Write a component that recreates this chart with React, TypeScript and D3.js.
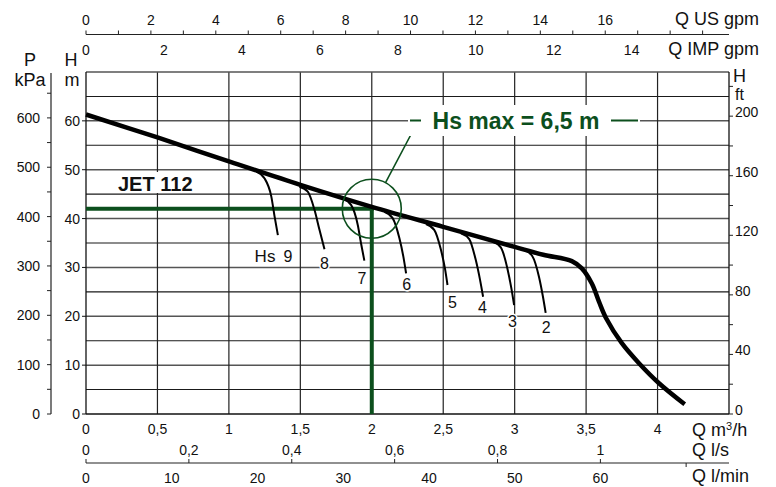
import React from 'react';
import * as d3 from 'd3';

const W = 776;
const H = 487;

// axis ticks
const qLabels = [0, 0.5, 1, 1.5, 2, 2.5, 3, 3.5, 4];
const qGrid = d3.range(0.5, 4.5, 0.5);
const headLabels = [0, 10, 20, 30, 40, 50, 60];
const headGrid = d3.range(5, 70, 5);
const kpaTicks = d3.range(0, 651, 50);
const kpaLabels = [0, 100, 200, 300, 400, 500, 600];
const ftTicks = d3.range(0, 221, 20);
const ftLabels = [0, 40, 80, 120, 160, 200];
const usGpmTicks = d3.range(0, 20);
const usGpmLabels = [0, 2, 4, 6, 8, 10, 12, 14, 16];
const impGpmLabels = [0, 2, 4, 6, 8, 10, 12, 14];
const lsLabels = [0, 0.2, 0.4, 0.6, 0.8, 1];
const lminLabels = [0, 10, 20, 30, 40, 50, 60];
const lminExtraTicks = [70];

// pump curve JET 112 (Q m3/h, H m)
const mainQ = [0, 0.5, 1, 1.5, 2, 2.5, 3, 3.2, 3.4, 3.47, 3.54, 3.59, 3.64, 3.75, 3.87, 4.01, 4.19];
const mainH = [61.3, 56.6, 51.7, 46.9, 42.4, 38.3, 34.2, 32.6, 31.3, 29.8, 26.7, 23.0, 19.6, 14.5, 10.4, 6.3, 2.0];

// suction lift curves
const hsLevels = [9, 8, 7, 6, 5, 4, 3, 2];
const hsQ = [
  [1.192, 1.25, 1.297, 1.32, 1.343],
  [1.494, 1.552, 1.599, 1.634, 1.669],
  [1.797, 1.855, 1.902, 1.925, 1.948],
  [2.088, 2.146, 2.193, 2.221, 2.24],
  [2.379, 2.437, 2.484, 2.512, 2.53],
  [2.624, 2.682, 2.728, 2.758, 2.779],
  [2.844, 2.903, 2.949, 2.977, 2.996],
  [3.066, 3.124, 3.17, 3.198, 3.217],
];
const hsH = [
  [49.6, 48.2, 44.5, 40.4, 36.6],
  [46.5, 45.5, 41.8, 37.7, 33.7],
  [44.1, 42.8, 38.7, 34.9, 31.4],
  [41.4, 40.1, 36.0, 32.2, 28.8],
  [38.9, 37.7, 33.6, 29.8, 26.4],
  [37.0, 35.8, 31.5, 27.4, 24.0],
  [35.3, 34.1, 29.8, 25.7, 22.3],
  [33.6, 32.3, 28.1, 24.0, 20.7],
];
const hsLabelQ = [1.413, 1.669, 1.932, 2.244, 2.565, 2.774, 2.984, 3.221];
const hsLabelH = [32.3, 31.0, 27.8, 26.6, 23.0, 22.0, 19.1, 17.9];

// duty point
const dutyQ = 2;
const dutyH = 42;

const FONT = '"Liberation Sans", Arial, Helvetica, sans-serif';
const GREEN = '#0c4f1d';

const fmt = (v: number) => String(v).replace('.', ',');

export default function App() {
  const x = d3.scaleLinear().domain([0, 4.5]).range([86, 729]);
  const y = d3.scaleLinear().domain([0, 70]).range([414, 72]);
  const yKpa = d3.scaleLinear().domain([0, 693]).range([414, 72]);
  const yFt = d3.scaleLinear().domain([0, 70 / 0.3048]).range([414, 72]);
  const xUs = d3.scaleLinear().domain([0, 4.5 / 0.22712]).range([86, 729]);
  const xImp = d3.scaleLinear().domain([0, 4.5 / 0.27277]).range([86, 729]);
  const xLs = d3.scaleLinear().domain([0, 4.5 / 3.6]).range([86, 729]);
  const xLmin = d3.scaleLinear().domain([0, 4.5 / 0.06]).range([86, 729]);

  const hsLine = d3
    .line<[number, number]>()
    .x((d) => x(d[0]))
    .y((d) => y(d[1]))
    .curve(d3.curveMonotoneX);

  const mainLine = d3
    .line<[number, number]>()
    .x((d) => x(d[0]))
    .y((d) => y(d[1]))
    .curve(d3.curveCatmullRom.alpha(0.5));

  const mainPts = mainQ.map((q, i) => [q, mainH[i]] as [number, number]);

  const cx = x(dutyQ);
  const cy = y(dutyH);
  const r = 29.5;
  const tipX = 416;
  const tipY = 125;
  const ang = Math.atan2(tipY - cy, tipX - cx);

  const [x0, x1] = x.range();
  const [y0, y1] = y.range();

  const tick = { fontFamily: FONT, fontSize: 14, fill: '#111' } as const;
  const title = { fontFamily: FONT, fontSize: 18, fill: '#111' } as const;

  return (
    <svg width={W} height={H} style={{ position: 'absolute', left: 0, top: 0 }}>
      <rect width={W} height={H} fill="#fff" />

      {/* grid */}
      {headGrid.map((h) => (
        <line key={'hg' + h} x1={x0} x2={x1} y1={y(h)} y2={y(h)}
          stroke={h % 10 === 0 ? '#555' : '#1a1a1a'} strokeWidth={h % 10 === 0 ? 1.5 : 1.1} />
      ))}
      {qGrid.map((q) => (
        <line key={'qg' + q} x1={x(q)} x2={x(q)} y1={y1} y2={y0} stroke="#222" strokeWidth={1.2} />
      ))}
      <line x1={x0} x2={x1} y1={y1} y2={y1} stroke="#555" strokeWidth={1.5} />
      <line x1={x0} x2={x0} y1={y1} y2={y0} stroke="#111" strokeWidth={1.3} />
      <line x1={x1} x2={x1} y1={y1} y2={y0} stroke="#111" strokeWidth={1.3} />
      <line x1={x0} x2={x1} y1={y0} y2={y0} stroke="#111" strokeWidth={1.3} />

      {/* left H axis */}
      {headLabels.map((h) => (
        <g key={'hl' + h}>
          <line x1={x0 - 4} x2={x0} y1={y(h)} y2={y(h)} stroke="#111" />
          <text x={80} y={y(h) + 5} textAnchor="end" {...tick}>{h}</text>
        </g>
      ))}
      <text x={71} y={66} textAnchor="middle" {...title}>H</text>
      <text x={72} y={86} textAnchor="middle" {...title}>m</text>

      {/* kPa axis */}
      <line x1={51} x2={51} y1={73} y2={y0} stroke="#222" strokeWidth={1.2} />
      {kpaTicks.map((p) => (
        <line key={'kt' + p} x1={47} x2={51} y1={yKpa(p)} y2={yKpa(p)} stroke="#222" />
      ))}
      {kpaLabels.map((p) => (
        <text key={'kl' + p} x={40} y={yKpa(p) + 5} textAnchor="end" {...tick}>{p}</text>
      ))}
      <text x={30} y={66} textAnchor="middle" {...title}>P</text>
      <text x={30} y={86} textAnchor="middle" {...title}>kPa</text>

      {/* ft axis */}
      {ftTicks.map((f) => (
        <line key={'ft' + f} x1={x1} x2={x1 + 4} y1={yFt(f)} y2={yFt(f)} stroke="#222" />
      ))}
      {ftLabels.map((f) => (
        <text key={'fl' + f} x={735} y={yFt(f) + 1} {...tick}>{f}</text>
      ))}
      <text x={733} y={82} {...title}>H</text>
      <text x={735} y={100} {...tick} fontSize={16}>ft</text>

      {/* top gpm axes */}
      <line x1={x0} x2={x1} y1={34.5} y2={34.5} stroke="#222" strokeWidth={1.2} />
      {usGpmTicks.map((g) => (
        <line key={'ut' + g} x1={xUs(g)} x2={xUs(g)} y1={30.5} y2={34.5} stroke="#222" />
      ))}
      {usGpmLabels.map((g) => (
        <text key={'ul' + g} x={xUs(g)} y={25} textAnchor="middle" {...tick}>{g}</text>
      ))}
      {impGpmLabels.map((g) => (
        <text key={'il' + g} x={xImp(g)} y={55} textAnchor="middle" {...tick}>{g}</text>
      ))}
      <text x={759} y={25} textAnchor="end" {...title}>Q US gpm</text>
      <text x={759} y={55} textAnchor="end" {...title}>Q IMP gpm</text>

      {/* bottom flow axes */}
      {qLabels.map((q) => (
        <text key={'ql' + q} x={x(q)} y={434} textAnchor="middle" {...tick}>{fmt(q)}</text>
      ))}
      <text x={692} y={436} {...title}>
        Q m<tspan dy={-6} fontSize={11}>3</tspan><tspan dy={6}>/h</tspan>
      </text>
      {lsLabels.map((v) => (
        <text key={'ls' + v} x={xLs(v)} y={455} textAnchor="middle" {...tick}>{fmt(v)}</text>
      ))}
      <text x={692} y={456} {...title}>Q l/s</text>
      <line x1={x0} x2={x1} y1={463} y2={463} stroke="#222" strokeWidth={1.2} />
      {lsLabels.map((v) => (
        <line key={'lst' + v} x1={xLs(v)} x2={xLs(v)} y1={459} y2={463} stroke="#222" />
      ))}
      {lminExtraTicks.map((v) => (
        <line key={'lmt' + v} x1={xLmin(v)} x2={xLmin(v)} y1={463} y2={467} stroke="#222" />
      ))}
      {lminLabels.map((v) => (
        <text key={'lm' + v} x={xLmin(v)} y={483} textAnchor="middle" {...tick}>{v}</text>
      ))}
      <text x={692} y={482} {...title}>Q l/min</text>

      {/* duty point guides */}
      <line x1={x0} x2={cx + 2} y1={cy} y2={cy} stroke={GREEN} strokeWidth={4} />
      <line x1={cx} x2={cx} y1={cy - 2} y2={y0} stroke={GREEN} strokeWidth={4} />

      {/* suction curves */}
      {hsLevels.map((lv, i) => (
        <path key={'hs' + lv} d={hsLine(hsQ[i].map((q, j) => [q, hsH[i][j]] as [number, number])) || ''}
          fill="none" stroke="#000" strokeWidth={2} />
      ))}

      {/* main curve */}
      <path d={mainLine(mainPts) || ''} fill="none" stroke="#000" strokeWidth={4.5} />

      {/* Hs max callout */}
      <circle cx={cx} cy={cy} r={r} fill="none" stroke={GREEN} strokeWidth={1.6} />
      <line x1={cx + r * Math.cos(ang)} y1={cy + r * Math.sin(ang)} x2={tipX} y2={tipY}
        stroke={GREEN} strokeWidth={1.6} />
      <rect x={408} y={105} width={232} height={31} fill="#fff" />
      <line x1={410} x2={638} y1={120.5} y2={120.5} stroke={GREEN} strokeWidth={1.8} />
      <rect x={421} y={105} width={190} height={31} fill="#fff" />
      <text x={516} y={128.5} textAnchor="middle" fontFamily={FONT} fontSize={23}
        fontWeight="bold" fill={GREEN}>Hs max = 6,5 m</text>

      {/* suction labels */}
      {hsLevels.map((lv, i) => (
        <text key={'hsl' + lv} x={x(hsLabelQ[i])} y={y(hsLabelH[i]) + 6} textAnchor="middle"
          fontFamily={FONT} fontSize={16} fill="#111" stroke="#fff" strokeWidth={3}
          paintOrder="stroke">{lv}</text>
      ))}
      <text x={265} y={y(hsLabelH[0]) + 6} textAnchor="middle" fontFamily={FONT} fontSize={17}
        fill="#111">Hs</text>

      {/* model label */}
      <rect x={115} y={172} width={78} height={21} fill="#fff" />
      <text x={118} y={190.5} fontFamily={FONT} fontSize={20} fontWeight="bold" fill="#111">JET 112</text>
    </svg>
  );
}
